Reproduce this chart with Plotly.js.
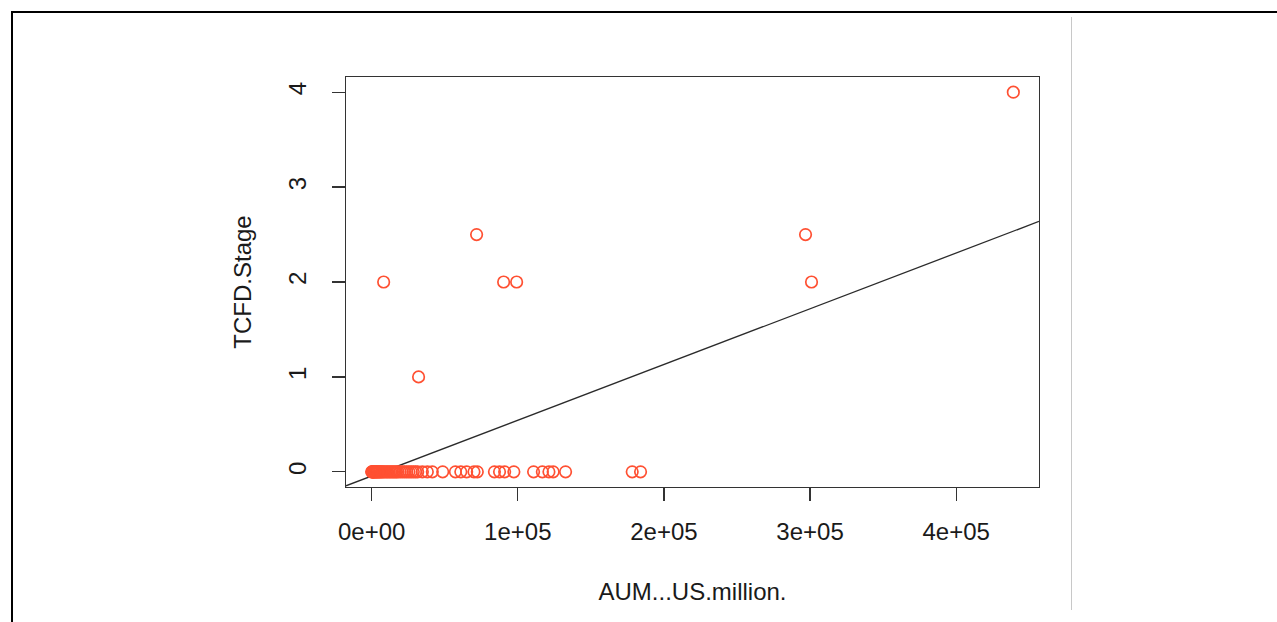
<!DOCTYPE html>
<html>
<head>
<meta charset="utf-8">
<script src="https://cdn.plot.ly/plotly-3.0.1.min.js"></script>
<style>
  html, body { margin: 0; padding: 0; background: #fff; }
  #wrap { position: relative; width: 1277px; height: 622px; overflow: hidden; }
  #chart { position: absolute; left: 0; top: 0; width: 1277px; height: 622px; }
  #bTop { position: absolute; left: 11px; top: 11px; width: 1266px; height: 2px; background: #000; }
  #bLeft { position: absolute; left: 11px; top: 11px; width: 2px; height: 611px; background: #000; }
  #gLine { position: absolute; left: 1071px; top: 17px; width: 1px; height: 593px; background: #c8c8c8; }
</style>
</head>
<body>
<div id="wrap">
  <div id="chart"></div>
  <div id="bTop"></div>
  <div id="bLeft"></div>
  <div id="gLine"></div>
</div>
<script>
// AUM (US$ million) values and TCFD stage
const aum = [
  0, 300, 600, 900, 1200, 1600, 2000, 2500, 3000, 3500, 4000, 4600, 5200, 5800, 6500, 7200,
  8000, 9000, 10000, 11000, 12000, 13000, 14000, 15000, 16000, 17000, 18000, 19500, 21000,
  22500, 24000, 25500, 27000, 28500, 30000, 31500,
  34700, 38100, 41500, 48600, 57300, 61000, 65000, 70000, 72300, 84000, 87500, 91000, 97300,
  110800, 116800, 121300, 124200, 132700, 178300, 184000,
  8200, 32100, 71800, 90300, 99200, 296900, 301000, 439100
];
const tcfdStage = [
  0, 0, 0, 0, 0, 0, 0, 0, 0, 0, 0, 0, 0, 0, 0, 0,
  0, 0, 0, 0, 0, 0, 0, 0, 0, 0, 0, 0, 0,
  0, 0, 0, 0, 0, 0, 0,
  0, 0, 0, 0, 0, 0, 0, 0, 0, 0, 0, 0, 0,
  0, 0, 0, 0, 0, 0, 0,
  2, 1, 2.5, 2, 2, 2.5, 2, 4
];
// fitted regression line (abline of lm)
const fitIntercept = -0.044;
const fitSlope = 5.874e-6;

const xTickVals = [0, 100000, 200000, 300000, 400000];
const xTickText = ["0e+00", "1e+05", "2e+05", "3e+05", "4e+05"];
const yTickVals = [0, 1, 2, 3, 4];
const yTickText = ["0", "1", "2", "3", "4"];

// R-style 4% range extension
function rRange(arr) {
  const mn = Math.min(...arr), mx = Math.max(...arr);
  const d = (mx - mn) * 0.04;
  return [mn - d, mx + d];
}
const xr = rRange(aum);
const yr = rRange(tcfdStage);

const fontFam = '"Liberation Sans", Arial, Helvetica, sans-serif';
const txtColor = '#1a1a1a';

const pts = {
  x: aum, y: tcfdStage, type: 'scatter', mode: 'markers',
  marker: { symbol: 'circle-open', size: 11.5, color: 'rgb(255,80,50)', line: { width: 1.7, color: 'rgb(255,80,50)' } },
  hoverinfo: 'x+y', showlegend: false, cliponaxis: true
};
const fitX = [xr[0], xr[1]];
const fitLine = {
  x: fitX, y: fitX.map(v => fitIntercept + fitSlope * v),
  type: 'scatter', mode: 'lines',
  line: { color: '#2b2b2b', width: 1.3 },
  hoverinfo: 'skip', showlegend: false
};

const axisCommon = {
  showgrid: false, zeroline: false, showline: true, mirror: true,
  linecolor: '#333', linewidth: 1.3,
  ticks: 'outside', ticklen: 13, tickwidth: 1.2, tickcolor: '#333',
  tickfont: { family: fontFam, size: 24, color: txtColor },
  tickmode: 'array'
};

const layout = {
  width: 1277, height: 622,
  margin: { l: 346, r: 238, t: 77, b: 135, pad: 0 },
  paper_bgcolor: 'rgba(0,0,0,0)', plot_bgcolor: '#fff',
  font: { family: fontFam, color: txtColor },
  xaxis: Object.assign({}, axisCommon, {
    range: xr, tickvals: xTickVals, ticktext: xTickText,
    ticklabelstandoff: 10,
    title: { text: 'AUM...US.million.', font: { family: fontFam, size: 24, color: txtColor }, standoff: 39 }
  }),
  yaxis: Object.assign({}, axisCommon, {
    range: yr, tickvals: yTickVals, ticktext: yTickText, tickangle: -90,
    ticklabelstandoff: 16,
    title: { text: 'TCFD.Stage', font: { family: fontFam, size: 24, color: txtColor }, standoff: 25 }
  })
};

Plotly.newPlot('chart', [fitLine, pts], layout, { staticPlot: true, displayModeBar: false });
</script>
</body>
</html>
